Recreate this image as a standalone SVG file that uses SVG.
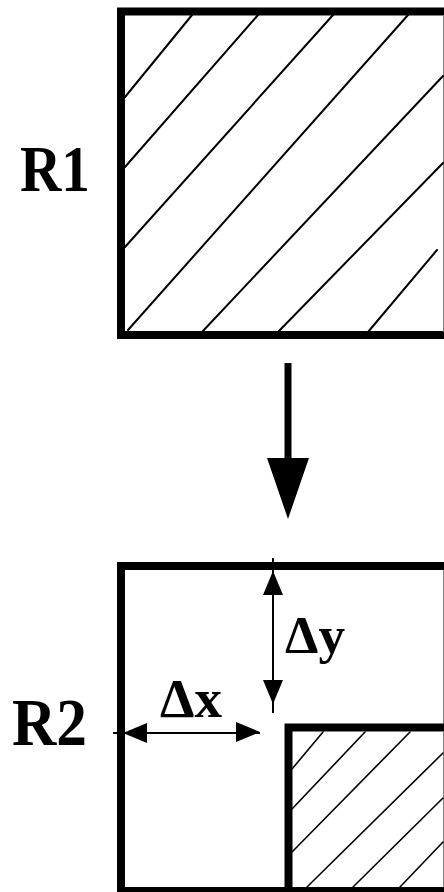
<svg xmlns="http://www.w3.org/2000/svg" width="444" height="892" viewBox="0 0 444 892">
<style>
.box{fill:none;stroke:#000;stroke-width:8}
.edge{stroke:#808080;stroke-width:1}
.hatch{stroke:#000;stroke-width:2;fill:none;stroke-linecap:round}
.hatch2{stroke:#000;stroke-width:1.6;fill:none;stroke-linecap:round}
.lbl{font-family:"Liberation Serif","Times New Roman",serif;font-weight:bold;fill:#000}
.dim{stroke:#000;stroke-width:2;fill:none}
</style>
<defs>
<polygon id="head" points="0,0 -24,-10 -24,10" fill="#000"/>
</defs>
<rect width="444" height="892" fill="#fff"/>
<g id="r1">
<rect class="box" x="121" y="11.5" width="328" height="323.5"/>
<line class="edge" x1="443.5" y1="15" x2="443.5" y2="332"/>
<g class="hatch">
<line x1="125" y1="97" x2="192" y2="15"/>
<line x1="125" y1="167" x2="258" y2="15"/>
<line x1="125" y1="247" x2="333" y2="15"/>
<line x1="128" y1="330" x2="408" y2="15"/>
<line x1="202" y1="332" x2="443" y2="76"/>
<line x1="278" y1="332" x2="443" y2="163"/>
<line x1="368" y1="332" x2="437" y2="250"/>
</g>
<text class="lbl" x="20" y="191" font-size="66" textLength="70" lengthAdjust="spacingAndGlyphs">R1</text>
</g>
<g id="r2">
<rect class="box" x="121" y="566" width="328" height="325"/>
<line class="edge" x1="443.5" y1="570" x2="443.5" y2="724"/>
<text class="lbl" x="12" y="745" font-size="68" textLength="75" lengthAdjust="spacingAndGlyphs">R2</text>
</g>
<g id="r2-inner">
<rect class="box" x="288.5" y="727.5" width="162" height="170"/>
<line class="edge" x1="443.5" y1="732" x2="443.5" y2="887"/>
<g class="hatch2">
<line x1="292" y1="769" x2="323" y2="732"/>
<line x1="292" y1="809" x2="365" y2="732"/>
<line x1="292" y1="852" x2="410" y2="732"/>
<line x1="307" y1="887" x2="443" y2="753"/>
<line x1="353" y1="887" x2="443" y2="798"/>
<line x1="400" y1="887" x2="443" y2="842"/>
</g>
</g>
<g id="connectors">
<g id="move-arrow">
<line x1="288" y1="363" x2="288" y2="460" stroke="#000" stroke-width="7"/>
<polygon points="267,458 309,458 288,519" fill="#000"/>
</g>
<g id="dy">
<line class="dim" x1="273" y1="558" x2="273" y2="713"/>
<use href="#head" transform="translate(273,571) rotate(-90)"/>
<use href="#head" transform="translate(273,704) rotate(90)"/>
<text class="lbl" x="285" y="653" font-size="52" textLength="60" lengthAdjust="spacingAndGlyphs">Δy</text>
</g>
<g id="dx">
<line class="dim" x1="113" y1="733" x2="260" y2="733"/>
<use href="#head" transform="translate(123,733) rotate(180)"/>
<use href="#head" transform="translate(260,732)"/>
<text class="lbl" x="160" y="717" font-size="54" textLength="62" lengthAdjust="spacingAndGlyphs">Δx</text>
</g>
</g>
</svg>
